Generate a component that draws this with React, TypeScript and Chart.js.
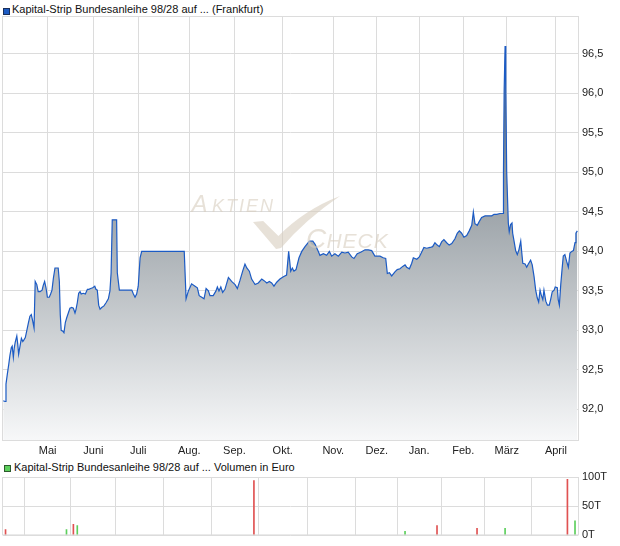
import React, { useEffect, useRef } from "react";
import { Chart, registerables } from "chart.js";

Chart.register(...registerables);

// trading-day index (0..250) and price
const priceX = [
  0.1, 0.9, 1.3, 1.9, 2.5, 3.0, 3.6, 4.0, 4.5, 4.9, 5.3, 6.0, 6.4, 6.8, 7.4, 8.0, 8.6, 9.1, 9.7, 10.3,
  11.0, 11.7, 12.3, 12.9, 13.5, 14.0, 14.7, 15.3, 16.1, 17.0, 17.5, 18.1, 18.7, 19.3, 20.1, 20.7, 21.3, 21.9, 22.6, 24.0,
  24.5, 24.9, 25.3, 26.0, 26.5, 27.1, 27.7, 28.4, 29.1, 29.9, 30.6, 31.3, 31.7, 32.3, 32.9, 33.5, 34.0, 34.9, 35.8, 36.7,
  37.3, 38.1, 39.0, 39.9, 40.4, 41.0, 41.6, 42.2, 42.9, 43.9, 44.8, 45.8, 46.5, 47.0, 47.5, 49.4, 49.7, 50.6, 56.0, 56.7,
  57.4, 58.1, 58.8, 59.6, 60.3, 78.8, 79.6, 80.6, 82.0, 83.5, 84.5, 85.3, 86.4, 87.4, 88.3, 89.3, 90.0, 91.4, 92.6, 93.2,
  93.9, 94.7, 95.5, 96.5, 98.0, 99.4, 100.9, 101.9, 103.0, 104.2, 105.2, 106.0, 107.1, 108.1, 109.6, 111.0, 112.5, 113.5, 114.7, 115.8,
  116.8, 117.8, 119.0, 120.4, 121.9, 123.3, 124.2, 125.1, 125.8, 126.5, 127.4, 128.7, 129.9, 131.3, 133.2, 134.7, 135.7, 137.1, 137.8, 139.3,
  140.7, 141.9, 142.9, 144.3, 145.8, 147.3, 148.7, 150.1, 151.6, 152.6, 154.0, 155.5, 157.4, 158.8, 160.3, 161.7, 163.9, 165.3, 166.4, 167.1,
  168.0, 169.0, 170.4, 171.4, 172.6, 173.8, 174.8, 175.5, 176.7, 177.7, 178.4, 179.9, 181.0, 182.0, 183.0, 184.2, 185.7, 186.8, 187.8, 188.8,
  189.7, 190.7, 191.7, 192.9, 194.0, 195.1, 196.5, 197.5, 198.4, 199.4, 200.4, 201.6, 202.7, 203.8, 204.5, 205.2, 206.2, 207.1, 208.1, 209.6,
  211.0, 212.5, 213.5, 214.7, 216.1, 217.4, 217.6, 217.9, 218.3, 218.6, 219.0, 219.7, 220.1, 220.7, 221.3, 221.6, 222.2, 222.9, 223.6, 224.3,
  225.1, 225.5, 226.0, 227.0, 227.7, 228.4, 229.4, 230.1, 230.9, 231.6, 232.3, 232.9, 233.5, 234.0, 234.7, 235.2, 236.0, 236.7, 237.5, 238.1,
  238.8, 239.6, 240.1, 241.0, 241.4, 241.9, 242.5, 243.0, 243.6, 244.3, 245.1, 245.8, 246.5, 247.3, 248.0, 248.7, 249.1, 249.7,
];
const priceY = [
  92.11, 92.10, 92.32, 92.45, 92.57, 92.68, 92.78, 92.80, 92.66, 92.78, 92.85, 92.93, 92.83, 92.70, 92.80, 92.90, 92.86, 92.88, 92.91, 92.99,
  93.09, 93.18, 93.20, 93.12, 93.03, 93.62, 93.58, 93.49, 93.49, 93.51, 93.57, 93.62, 93.54, 93.42, 93.42, 93.46, 93.51, 93.66, 93.79, 93.79,
  93.62, 93.20, 93.00, 92.99, 92.97, 93.10, 93.16, 93.22, 93.28, 93.29, 93.28, 93.22, 93.26, 93.35, 93.47, 93.49, 93.46, 93.47, 93.46, 93.52,
  93.52, 93.53, 93.54, 93.56, 93.52, 93.51, 93.32, 93.27, 93.29, 93.31, 93.35, 93.40, 93.50, 93.73, 94.40, 94.40, 93.73, 93.51, 93.51, 93.46,
  93.42, 93.46, 93.56, 93.92, 94.00, 94.00, 93.40, 93.50, 93.59, 93.56, 93.54, 93.44, 93.42, 93.40, 93.53, 93.50, 93.44, 93.44, 93.50, 93.55,
  93.50, 93.55, 93.48, 93.52, 93.67, 93.62, 93.58, 93.53, 93.63, 93.75, 93.84, 93.79, 93.75, 93.65, 93.58, 93.60, 93.65, 93.63, 93.60, 93.62,
  93.60, 93.56, 93.61, 93.65, 93.68, 93.70, 94.00, 93.75, 93.79, 93.75, 93.77, 93.92, 94.00, 94.06, 94.13, 94.13, 94.09, 94.00, 93.95, 93.97,
  93.95, 94.00, 93.94, 93.97, 93.94, 93.99, 93.98, 93.99, 93.93, 93.91, 93.97, 93.99, 94.02, 94.02, 94.01, 93.94, 93.94, 93.92, 93.91, 93.72,
  93.73, 93.69, 93.74, 93.77, 93.78, 93.81, 93.83, 93.80, 93.78, 93.85, 93.92, 93.90, 93.93, 93.99, 94.05, 94.04, 94.05, 94.06, 94.11, 94.08,
  94.06, 94.12, 94.15, 94.11, 94.08, 94.10, 94.16, 94.23, 94.26, 94.23, 94.18, 94.20, 94.26, 94.33, 94.50, 94.35, 94.33, 94.38, 94.43, 94.45,
  94.45, 94.45, 94.47, 94.47, 94.48, 94.48, 95.02, 96.05, 96.60, 96.05, 95.00, 94.36, 94.25, 94.34, 94.36, 94.23, 94.13, 94.01, 93.96, 94.02,
  94.13, 94.00, 93.85, 93.84, 93.80, 93.84, 93.89, 93.83, 93.68, 93.51, 93.41, 93.36, 93.51, 93.45, 93.39, 93.51, 93.37, 93.32, 93.32, 93.39,
  93.49, 93.51, 93.55, 93.54, 93.39, 93.32, 93.58, 93.75, 93.94, 93.96, 93.87, 93.80, 93.98, 94.00, 94.01, 94.11, 94.23, 94.26,
];

const monthTicks = [19.4, 39.3, 58.8, 81.0, 100.6, 121.6, 143.6, 162.5, 180.9, 200.1, 219.0, 240.4];
const monthLabels = ["Mai", "Juni", "Juli", "Aug.", "Sep.", "Okt.", "Nov.", "Dez.", "Jan.", "Feb.", "März", "April"];
const priceTicks = [92.0, 92.5, 93.0, 93.5, 94.0, 94.5, 95.0, 95.5, 96.0, 96.5];

const volX = [1.1, 27.6, 30.6, 32.3, 109.1, 174.8, 188.7, 206.1, 218.3, 245.4, 248.7];
const volValues = [10, 10, 19, 17, 94, 7, 17, 12, 12, 96, 25];
const volUp = [false, true, false, true, false, true, false, false, true, false, true];
const volTicks = [0, 50, 100];

const FONT = '"Liberation Sans", Arial, Helvetica, sans-serif';
const GRID = "#dcdcdc";
const LINE = "#1c5bc4";

const framePlugin = {
  id: "frame",
  afterDatasetsDraw(chart: any) {
    const { ctx, chartArea: a } = chart;
    ctx.save();
    ctx.strokeStyle = GRID;
    ctx.lineWidth = 1;
    ctx.strokeRect(a.left - 0.5, a.top + 0.5, a.right - a.left + 1, a.bottom - a.top - 1);
    ctx.restore();
  },
};

const watermarkPlugin = {
  id: "watermark",
  afterDatasetsDraw(chart: any) {
    const { ctx, chartArea: a } = chart;
    const w = a.right - a.left;
    const h = a.bottom - a.top;
    const X = (f: number) => a.left + f * w;
    const Y = (f: number) => a.top + f * h;
    ctx.save();
    ctx.fillStyle = "rgba(215, 205, 190, 0.6)";
    // check mark
    ctx.beginPath();
    ctx.moveTo(X(0.4348), Y(0.4847));
    ctx.lineTo(X(0.4525), Y(0.4824));
    ctx.lineTo(X(0.479), Y(0.5176));
    ctx.quadraticCurveTo(X(0.525), Y(0.455), X(0.5861), Y(0.4235));
    ctx.quadraticCurveTo(X(0.525), Y(0.48), X(0.4835), Y(0.5459));
    ctx.lineTo(X(0.4748), Y(0.5482));
    ctx.closePath();
    ctx.fill();
    ctx.textBaseline = "alphabetic";
    (ctx as any).letterSpacing = "0px";
    ctx.font = `italic 24px ${FONT}`;
    ctx.fillText("A", X(0.328), Y(0.4605));
    (ctx as any).letterSpacing = "2px";
    ctx.font = `italic 18px ${FONT}`;
    ctx.fillText("KTIEN", X(0.3635), Y(0.4605));
    (ctx as any).letterSpacing = "0px";
    ctx.font = `italic 28px ${FONT}`;
    ctx.fillText("C", X(0.527), Y(0.5466));
    (ctx as any).letterSpacing = "1px";
    ctx.font = `italic 21px ${FONT}`;
    ctx.fillText("HECK", X(0.5625), Y(0.5466));
    ctx.restore();
  },
};

export default function App() {
  const mainRef = useRef<HTMLCanvasElement>(null);
  const volRef = useRef<HTMLCanvasElement>(null);

  useEffect(() => {
    const mainChart = new Chart(mainRef.current as HTMLCanvasElement, {
      type: "line",
      data: {
        datasets: [
          {
            data: priceX.map((x, i) => ({ x, y: priceY[i] })),
            borderColor: LINE,
            borderWidth: 1.2,
            pointRadius: 0,
            tension: 0,
            fill: "start",
            backgroundColor: (context: any) => {
              const { chart } = context;
              const { ctx, chartArea } = chart;
              if (!chartArea) return "rgba(0,0,0,0)";
              const g = ctx.createLinearGradient(0, chartArea.top, 0, chartArea.bottom);
              g.addColorStop(0, "rgb(82, 94, 103)");
              g.addColorStop(1, "rgb(247, 248, 249)");
              return g;
            },
          },
        ],
      },
      options: {
        animation: false,
        responsive: false,
        maintainAspectRatio: false,
        layout: { padding: { left: 3, top: 16, right: 0, bottom: 0 } },
        plugins: { legend: { display: false }, tooltip: { enabled: false } },
        scales: {
          x: {
            type: "linear",
            min: 0,
            max: 250,
            afterBuildTicks: (axis: any) => {
              axis.ticks = monthTicks.map((v) => ({ value: v }));
            },
            afterFit: (s: any) => {
              s.height = 19;
            },
            ticks: {
              autoSkip: false,
              maxRotation: 0,
              padding: 3,
              color: "#222",
              font: { family: FONT, size: 11 },
              callback: (_v: any, i: number) => monthLabels[i],
            },
            grid: { color: GRID, drawTicks: false },
            border: { display: false },
          },
          y: {
            type: "linear",
            position: "right",
            min: 91.6,
            max: 96.98,
            afterBuildTicks: (axis: any) => {
              axis.ticks = priceTicks.map((v) => ({ value: v }));
            },
            afterFit: (s: any) => {
              s.width = 42;
            },
            ticks: {
              padding: 4,
              color: "#222",
              font: { family: FONT, size: 11 },
              callback: (v: any) => Number(v).toFixed(1).replace(".", ","),
            },
            grid: { color: GRID, drawTicks: false },
            border: { display: false },
          },
        },
      },
      plugins: [watermarkPlugin, framePlugin],
    } as any);

    const volChart = new Chart(volRef.current as HTMLCanvasElement, {
      type: "bar",
      data: {
        datasets: [
          {
            data: volX.map((x, i) => ({ x, y: volValues[i] })),
            backgroundColor: volUp.map((u) => (u ? "#5ccf5c" : "#e05252")),
            barThickness: 1,
            borderWidth: 0,
          },
        ],
      },
      options: {
        animation: false,
        responsive: false,
        maintainAspectRatio: false,
        layout: { padding: { left: 3, top: 17, right: 0, bottom: 0 } },
        plugins: { legend: { display: false }, tooltip: { enabled: false } },
        scales: {
          x: {
            type: "linear",
            min: 0,
            max: 250,
            offset: false,
            afterBuildTicks: (axis: any) => {
              axis.ticks = monthTicks.map((v) => ({ value: v }));
            },
            afterFit: (s: any) => {
              s.height = 10;
            },
            ticks: { display: false },
            grid: { color: GRID, drawTicks: false },
            border: { display: false },
          },
          y: {
            type: "linear",
            position: "right",
            min: 0,
            max: 100,
            afterBuildTicks: (axis: any) => {
              axis.ticks = volTicks.map((v) => ({ value: v }));
            },
            afterFit: (s: any) => {
              s.width = 42;
            },
            ticks: {
              padding: 4,
              color: "#222",
              font: { family: FONT, size: 11 },
              callback: (v: any) => `${v}T`,
            },
            grid: { color: GRID, drawTicks: false },
            border: { display: false },
          },
        },
      },
      plugins: [framePlugin],
    } as any);

    return () => {
      mainChart.destroy();
      volChart.destroy();
    };
  }, []);

  const legendText: React.CSSProperties = {
    position: "absolute",
    fontSize: 11,
    lineHeight: "13px",
    color: "#111",
    whiteSpace: "nowrap",
    fontFamily: FONT,
  };

  return (
    <div
      style={{
        position: "absolute",
        left: 0,
        top: 0,
        width: 620,
        height: 546,
        background: "#fff",
        overflow: "hidden",
      }}
    >
      <div
        style={{
          position: "absolute",
          left: 3,
          top: 8,
          width: 5,
          height: 5,
          background: LINE,
          border: "1px solid #1a2f5a",
        }}
      />
      <div style={{ ...legendText, left: 12, top: 3 }}>
        Kapital-Strip Bundesanleihe 98/28 auf ... (Frankfurt)
      </div>
      <canvas
        ref={mainRef}
        width={620}
        height={460}
        style={{ position: "absolute", left: 0, top: 0, width: 620, height: 460 }}
      />
      <div
        style={{
          position: "absolute",
          left: 4,
          top: 465,
          width: 5,
          height: 5,
          background: "#5ccf5c",
          border: "1px solid #2d5a2d",
        }}
      />
      <div style={{ ...legendText, left: 14, top: 461 }}>
        Kapital-Strip Bundesanleihe 98/28 auf ... Volumen in Euro
      </div>
      <canvas
        ref={volRef}
        width={620}
        height={86}
        style={{ position: "absolute", left: 0, top: 460, width: 620, height: 86 }}
      />
    </div>
  );
}
